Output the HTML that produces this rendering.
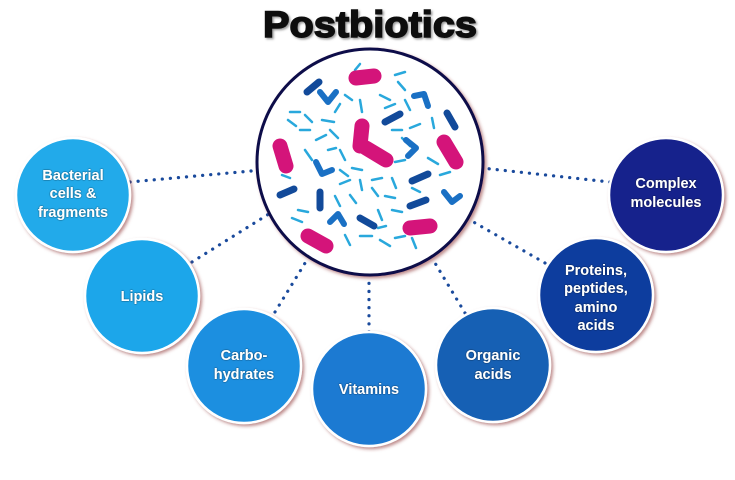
<!DOCTYPE html>
<html><head><meta charset="utf-8"><style>
html,body{margin:0;padding:0;background:#fff;}
body{width:735px;height:475px;overflow:hidden;}
text{font-family:"Liberation Sans",Arial,sans-serif;font-weight:bold;}
</style></head><body>
<svg width="735" height="475" viewBox="0 0 735 475" xmlns="http://www.w3.org/2000/svg">
<defs>
<filter id="sh" x="-20%" y="-20%" width="140%" height="140%"><feDropShadow dx="2" dy="2" stdDeviation="1.5" flood-color="#8a3030" flood-opacity="0.55"/></filter>
<filter id="ts"><feDropShadow dx="0" dy="0" stdDeviation="0.8" flood-color="#000" flood-opacity="0.8"/></filter>
<filter id="tt"><feDropShadow dx="1.5" dy="1.5" stdDeviation="1" flood-color="#555" flood-opacity="0.6"/></filter>
</defs>
<text x="370" y="37" text-anchor="middle" font-size="37" fill="#111" style="font-family:'Liberation Sans',Arial,sans-serif;font-weight:900" stroke="#111" stroke-width="1.6" textLength="214" lengthAdjust="spacingAndGlyphs" filter="url(#tt)">Postbiotics</text>
<g stroke="#1a4a9c" stroke-width="3.2" stroke-dasharray="0.1 8" stroke-linecap="round" fill="none">
<line x1="130" y1="182" x2="262" y2="170"/>
<line x1="192" y1="262" x2="272" y2="212"/>
<line x1="275" y1="312" x2="310" y2="255"/>
<line x1="369" y1="332" x2="369" y2="277"/>
<line x1="465" y1="313" x2="432" y2="258"/>
<line x1="545" y1="263" x2="470" y2="220"/>
<line x1="610" y1="182" x2="482" y2="168"/>
</g>
<circle cx="370" cy="162" r="113" fill="#fff" stroke="#0d0d4a" stroke-width="3" filter="url(#sh)"/>
<g stroke="#29a8dc" stroke-width="2.5" stroke-linecap="round">
<line x1="355" y1="70" x2="360" y2="64"/><line x1="395" y1="75" x2="405" y2="72"/><line x1="398" y1="82" x2="405" y2="90"/>
<line x1="345" y1="95" x2="352" y2="100"/><line x1="360" y1="100" x2="362" y2="112"/><line x1="380" y1="95" x2="390" y2="100"/>
<line x1="385" y1="108" x2="395" y2="104"/><line x1="405" y1="100" x2="410" y2="110"/><line x1="290" y1="112" x2="300" y2="112"/>
<line x1="288" y1="120" x2="296" y2="126"/><line x1="305" y1="115" x2="312" y2="122"/><line x1="300" y1="130" x2="310" y2="130"/>
<line x1="322" y1="120" x2="334" y2="122"/><line x1="330" y1="130" x2="338" y2="138"/><line x1="316" y1="140" x2="326" y2="135"/>
<line x1="340" y1="150" x2="345" y2="160"/><line x1="305" y1="150" x2="312" y2="160"/><line x1="328" y1="150" x2="336" y2="148"/>
<line x1="392" y1="130" x2="402" y2="130"/><line x1="410" y1="128" x2="420" y2="124"/><line x1="402" y1="138" x2="410" y2="146"/>
<line x1="432" y1="118" x2="434" y2="128"/><line x1="428" y1="158" x2="438" y2="164"/><line x1="395" y1="162" x2="405" y2="160"/>
<line x1="340" y1="170" x2="348" y2="176"/><line x1="352" y1="168" x2="362" y2="170"/><line x1="340" y1="184" x2="350" y2="180"/>
<line x1="360" y1="180" x2="362" y2="190"/><line x1="372" y1="180" x2="382" y2="178"/><line x1="372" y1="188" x2="378" y2="196"/>
<line x1="392" y1="178" x2="396" y2="188"/><line x1="385" y1="196" x2="395" y2="198"/><line x1="350" y1="195" x2="356" y2="203"/>
<line x1="335" y1="196" x2="340" y2="206"/><line x1="298" y1="210" x2="308" y2="212"/><line x1="292" y1="218" x2="302" y2="222"/>
<line x1="378" y1="210" x2="382" y2="220"/><line x1="392" y1="210" x2="402" y2="212"/><line x1="360" y1="236" x2="372" y2="236"/>
<line x1="380" y1="240" x2="390" y2="246"/><line x1="395" y1="238" x2="405" y2="236"/><line x1="378" y1="228" x2="386" y2="226"/>
<line x1="412" y1="238" x2="416" y2="248"/><line x1="345" y1="235" x2="350" y2="245"/><line x1="440" y1="175" x2="450" y2="172"/>
<line x1="335" y1="112" x2="340" y2="104"/><line x1="282" y1="175" x2="290" y2="178"/><line x1="412" y1="188" x2="420" y2="192"/>
</g>
<g stroke="#124a9a" stroke-width="7" stroke-linecap="round">
<line x1="307" y1="92" x2="319" y2="82"/><line x1="385" y1="122" x2="400" y2="114"/><line x1="447" y1="113" x2="455" y2="127"/>
<line x1="280" y1="195" x2="294" y2="189"/><line x1="320" y1="192" x2="320" y2="208"/><line x1="412" y1="181" x2="428" y2="174"/>
<line x1="410" y1="206" x2="426" y2="200"/><line x1="360" y1="218" x2="374" y2="226"/>
</g>
<g stroke="#1a70c4" stroke-width="6" stroke-linecap="round" stroke-linejoin="round" fill="none">
<polyline points="320,92 328,102 336,92"/><polyline points="414,96 424,94 428,106"/><polyline points="406,140 416,148 408,156"/>
<polyline points="316,162 322,174 332,170"/><polyline points="444,192 452,202 460,196"/><polyline points="330,222 338,214 344,224"/>
</g>
<g stroke="#d4147a" stroke-width="15" stroke-linecap="round" fill="none">
<line x1="356" y1="78" x2="374" y2="76"/><line x1="280" y1="146" x2="286" y2="166"/><line x1="362" y1="126" x2="360" y2="146"/>
<line x1="366" y1="148" x2="386" y2="160"/><line x1="444" y1="142" x2="456" y2="162"/><line x1="410" y1="228" x2="430" y2="226"/>
<line x1="308" y1="236" x2="326" y2="246"/>
</g>
<g filter="url(#sh)">
<circle cx="73" cy="195" r="57" fill="#23aaea" stroke="#fff" stroke-width="2.5"/>
<circle cx="142" cy="296" r="57" fill="#1ba6ea" stroke="#fff" stroke-width="2.5"/>
<circle cx="244" cy="366" r="57" fill="#1a8fe0" stroke="#fff" stroke-width="2.5"/>
<circle cx="369" cy="389" r="57" fill="#1a7ad2" stroke="#fff" stroke-width="2.5"/>
<circle cx="493" cy="365" r="57" fill="#1260b4" stroke="#fff" stroke-width="2.5"/>
<circle cx="596" cy="295" r="57" fill="#0f3e9e" stroke="#fff" stroke-width="2.5"/>
<circle cx="666" cy="195" r="57" fill="#14208c" stroke="#fff" stroke-width="2.5"/>
</g>
<g fill="#fff" font-size="14.5" text-anchor="middle" filter="url(#ts)">
<text x="73" y="180">Bacterial</text><text x="73" y="198">cells &amp;</text><text x="73" y="217">fragments</text>
<text x="142" y="301">Lipids</text>
<text x="244" y="360">Carbo-</text><text x="244" y="379">hydrates</text>
<text x="369" y="394">Vitamins</text>
<text x="493" y="360">Organic</text><text x="493" y="379">acids</text>
<text x="596" y="275">Proteins,</text><text x="596" y="293">peptides,</text><text x="596" y="312">amino</text><text x="596" y="330">acids</text>
<text x="666" y="188">Complex</text><text x="666" y="207">molecules</text>
</g>
</svg>
</body></html>
